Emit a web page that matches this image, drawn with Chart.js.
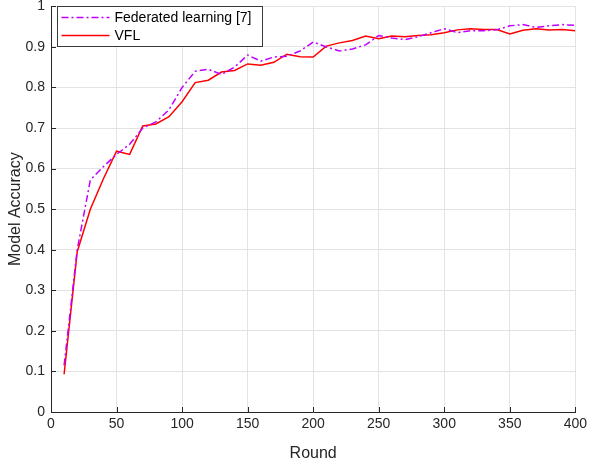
<!DOCTYPE html>
<html>
<head>
<meta charset="utf-8">
<script src="https://cdn.jsdelivr.net/npm/chart.js@4"></script>
<style>
  html, body { margin: 0; padding: 0; background: #fff; }
  #wrap { width: 591px; height: 467px; }
</style>
</head>
<body>
<div id="wrap"><canvas id="accChart"></canvas></div>
<script>
// data
const rounds = [10, 20, 30, 40, 50, 60, 70, 80, 90, 100,
    110, 120, 130, 140, 150, 160, 170, 180, 190, 200,
    210, 220, 230, 240, 250, 260, 270, 280, 290, 300,
    310, 320, 330, 340, 350, 360, 370, 380, 390, 400];
const fedAcc = [0.115, 0.40, 0.572, 0.605, 0.635, 0.66, 0.70, 0.715, 0.745, 0.80,
    0.84, 0.845, 0.832, 0.85, 0.88, 0.865, 0.875, 0.877, 0.89, 0.912,
    0.90, 0.89, 0.895, 0.905, 0.928, 0.922, 0.918, 0.925, 0.935, 0.945,
    0.935, 0.94, 0.94, 0.942, 0.952, 0.955, 0.948, 0.952, 0.955, 0.953];
const vflAcc = [0.093, 0.395, 0.50, 0.575, 0.643, 0.635, 0.705, 0.71, 0.728, 0.765,
    0.812, 0.818, 0.838, 0.842, 0.858, 0.855, 0.862, 0.882, 0.876, 0.875,
    0.902, 0.91, 0.916, 0.927, 0.92, 0.927, 0.925, 0.928, 0.93, 0.935,
    0.942, 0.945, 0.943, 0.943, 0.932, 0.941, 0.945, 0.942, 0.943, 0.94];
const seriesNames = ['Federated learning [7]', 'VFL'];
const xTitle = 'Round';
const yTitle = 'Model Accuracy';

const FONT = '"Liberation Sans", Arial, sans-serif';
const AXIS = '#262626';
const GRID = '#e3e3e3';

function toPoints(ys) {
    return rounds.map((r, i) => ({ x: r, y: ys[i] }));
}

// legend box drawn inside the plot, top-left, plus inner tick marks
const matlabLook = {
    id: 'matlabLook',
    afterDraw(chart) {
        const c = chart.ctx;
        const area = chart.chartArea;
        const xs = chart.scales.x, ys = chart.scales.y;
        c.save();
        // inner ticks
        c.strokeStyle = AXIS;
        c.lineWidth = 1;
        c.beginPath();
        xs.ticks.forEach(t => {
            const px = Math.round(xs.getPixelForValue(t.value)) + 0.5;
            c.moveTo(px, area.bottom);
            c.lineTo(px, area.bottom - 5);
        });
        ys.ticks.forEach(t => {
            const py = Math.round(ys.getPixelForValue(t.value)) + 0.5;
            c.moveTo(area.left, py);
            c.lineTo(area.left + 5, py);
        });
        c.stroke();

        // legend
        const bx = Math.round(area.left) + 6.5, by = Math.round(area.top) + 0.5, bw = 205, bh = 40;
        c.fillStyle = '#fff';
        c.fillRect(bx, by, bw, bh);
        c.strokeStyle = '#3a3a3a';
        c.lineWidth = 1;
        c.strokeRect(bx, by, bw, bh);
        c.font = '14px ' + FONT;
        c.textBaseline = 'middle';
        chart.data.datasets.forEach((ds, i) => {
            const ly = by + 11 + i * 18;
            c.strokeStyle = ds.borderColor;
            c.lineWidth = ds.borderWidth;
            c.setLineDash(ds.borderDash || []);
            c.beginPath();
            c.moveTo(bx + 4, ly);
            c.lineTo(bx + 52, ly);
            c.stroke();
            c.setLineDash([]);
            c.fillStyle = '#000';
            c.fillText(ds.label, bx + 57, ly + 1);
        });
        c.restore();
    }
};

const ctx = document.getElementById('accChart').getContext('2d');
new Chart(ctx, {
    type: 'line',
    data: {
        datasets: [
            {
                label: seriesNames[0],
                data: toPoints(fedAcc),
                borderColor: '#bf00ff',
                borderWidth: 1.5,
                borderDash: [7, 3, 2, 3],
                pointRadius: 0,
                tension: 0,
                fill: false
            },
            {
                label: seriesNames[1],
                data: toPoints(vflAcc),
                borderColor: '#ff0000',
                borderWidth: 1.5,
                pointRadius: 0,
                tension: 0,
                fill: false
            }
        ]
    },
    options: {
        responsive: true,
        maintainAspectRatio: false,
        animation: false,
        layout: { padding: { left: 0, right: 15, top: 0, bottom: 0 } },
        plugins: {
            legend: { display: false },
            tooltip: { enabled: false }
        },
        scales: {
            x: {
                type: 'linear',
                min: 0,
                max: 400,
                ticks: { stepSize: 50, color: AXIS, font: { family: FONT, size: 14 }, padding: 4, maxRotation: 0 },
                grid: { color: GRID, drawTicks: false },
                border: { color: AXIS, width: 1 },
                title: { display: true, text: xTitle, color: AXIS, font: { family: FONT, size: 16 }, padding: { top: 2 } },
                afterFit(s) { s.height = 55; }
            },
            y: {
                min: 0,
                max: 1,
                ticks: {
                    stepSize: 0.1,
                    color: AXIS,
                    font: { family: FONT, size: 14, lineHeight: 0.05 },
                    padding: 6,
                    callback: v => String(Number(v.toFixed(1)))
                },
                grid: { color: GRID, drawTicks: false },
                border: { color: AXIS, width: 1 },
                title: { display: true, text: yTitle, color: AXIS, font: { family: FONT, size: 16 }, padding: { top: 6, bottom: 2 } },
                afterFit(s) { s.width = 51; }
            }
        }
    },
    plugins: [matlabLook]
});
</script>
</body>
</html>
